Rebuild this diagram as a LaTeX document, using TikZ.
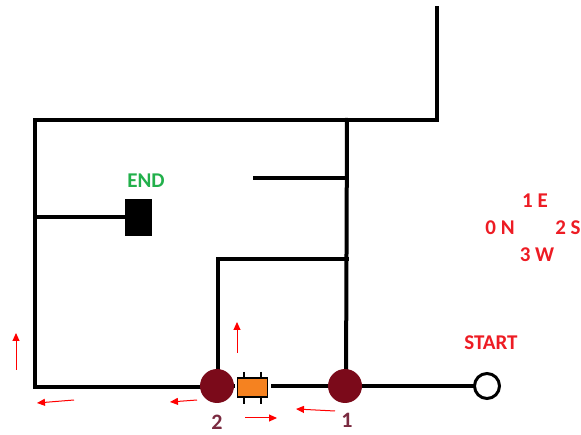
\documentclass[tikz,border=0pt]{standalone}
\usepackage{fontspec}
\setmainfont{Carlito}
\usetikzlibrary{arrows.meta}
\definecolor{junction}{HTML}{7B0A1A}
\definecolor{labelred}{HTML}{ED1C24}
\definecolor{labelgreen}{HTML}{22B04B}
\definecolor{idcol}{HTML}{7A2A40}
\definecolor{partfill}{HTML}{F58220}
\tikzset{
  wall/.style={line width=4pt, line cap=rect},
  junctionpt/.style={circle, fill=junction, minimum size=34pt, inner sep=0pt},
  dir/.style={red, line width=1pt, -{Triangle[length=8pt,width=7pt]}},
  tag/.style={font=\bfseries\fontsize{21}{23}\selectfont, text=labelred, inner sep=0pt},
  idnum/.style={font=\bfseries\fontsize{22}{24}\selectfont, text=idcol, inner sep=0pt}
}
\begin{document}
\begin{tikzpicture}[x=1pt,y=-1pt]
\useasboundingbox (0,0) rectangle (581,435);

% corners and ends of the walls
\coordinate (tl) at (35,120);
\coordinate (bl) at (35,387);
\coordinate (tm) at (347,120);
\coordinate (tr) at (437,120);
\coordinate (trtop) at (437,8);
\coordinate (stub) at (255,178);
\coordinate (stubend) at (347,178);
\coordinate (endarm) at (35,217);
\coordinate (innertop) at (218,259);
\coordinate (innerright) at (347,259);

% walls
\draw[wall] (bl) -- (tl) -- (tr) -- (trtop);
\draw[wall] (tm) -- (346,386);
\draw[wall] (stub) -- (stubend);
\draw[wall] (innerright) -- (innertop) -- (218,386);
\draw[wall] (endarm) -- (130,217);
\draw[wall] (bl) -- (217,387);
\draw[wall] (217,386) -- (475,386);

% end block
\node[fill=black, minimum width=27pt, minimum height=37pt, inner sep=0pt] (endblk) at (138.5,217.5) {};
\node[font=\bfseries\fontsize{21}{23}\selectfont, text=labelgreen, inner sep=0pt] (endlbl) at (146,181) {END};

% start point
\node[circle, draw=black, line width=3pt, fill=white, minimum size=25pt, inner sep=0pt] (start) at (487,386) {};
\node[tag] (startlbl) at (491,343) {START};

% junctions
\node[junctionpt] (j2) at (217,386) {};
\node[junctionpt] (j1) at (345,386) {};
\node[idnum, anchor=base] (n2) at (217,429) {2};
\node[idnum, anchor=base] (n1) at (347,428) {1};

% component between the junctions
\fill[white] (235,380) rectangle (271,394);
\draw[line width=1.3pt] (244,372) -- (244,404) (261,372) -- (261,404);
\node[draw=black, line width=1.3pt, fill=partfill, minimum width=30pt, minimum height=19pt, inner sep=0pt] (part) at (252.5,387.5) {};

% direction arrows
\draw[dir] (16,370) -- (16,333);
\draw[dir] (74,400) -- (37,403);
\draw[dir] (197,400) -- (170,402);
\draw[dir] (237,353) -- (237,322);
\draw[dir] (245,418) -- (277,418);
\draw[dir] (335,411) -- (296,409);

% heading legend
\node[tag] (e) at (535,201) {1 E};
\node[tag] (n) at (500,228) {0 N};
\node[tag] (s) at (568,228) {2 S};
\node[tag] (w) at (537,255) {3 W};
\end{tikzpicture}
\end{document}
